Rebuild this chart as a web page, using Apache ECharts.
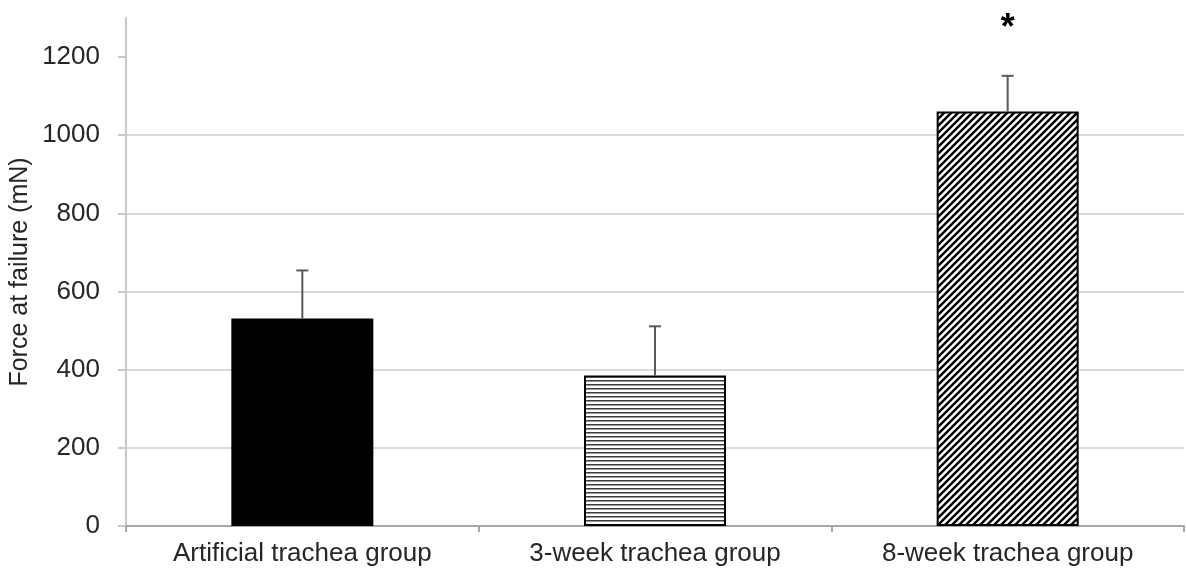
<!DOCTYPE html>
<html>
<head>
<meta charset="utf-8">
<script src="https://cdn.jsdelivr.net/npm/echarts@6/dist/echarts.min.js"></script>
<style>
  html, body { margin: 0; padding: 0; background: #fff; }
  #chart { width: 1186px; height: 577px; }
</style>
</head>
<body>
<div id="chart"></div>
<script>
// data
var groups = ["Artificial trachea group", "3-week trachea group", "8-week trachea group"];
var meanForce = [531, 385, 1061];
var sdForce = [123, 126, 91];
var sigMarks = ["", "", "*"];
var yTicks = [0, 200, 400, 600, 800, 1000, 1200];
var yMax = 1300;

var FONT = "Liberation Sans, Arial, sans-serif";

function hatchHorizontal() {
  var c = document.createElement("canvas");
  c.width = 8;
  c.height = 4;
  var ctx = c.getContext("2d");
  ctx.fillStyle = "#fff";
  ctx.fillRect(0, 0, 8, 4);
  ctx.fillStyle = "#3a3a3a";
  ctx.fillRect(0, 0, 8, 1.5);
  return c;
}

function hatchDiagonal() {
  var s = 7;
  var c = document.createElement("canvas");
  c.width = s;
  c.height = s;
  var ctx = c.getContext("2d");
  ctx.fillStyle = "#fff";
  ctx.fillRect(0, 0, s, s);
  ctx.strokeStyle = "#000";
  ctx.lineWidth = 2.4;
  ctx.beginPath();
  ctx.moveTo(-1, s + 1);
  ctx.lineTo(s + 1, -1);
  ctx.moveTo(-1, 1);
  ctx.lineTo(1, -1);
  ctx.moveTo(s - 1, s + 1);
  ctx.lineTo(s + 1, s - 1);
  ctx.stroke();
  return c;
}

var fills = [
  "#000",
  { image: hatchHorizontal(), repeat: "repeat" },
  { image: hatchDiagonal(), repeat: "repeat" }
];

var barData = meanForce.map(function(v, i) {
  return {
    value: v,
    itemStyle: { color: fills[i], borderColor: "#000", borderWidth: i == 0 ? 0 : 2 }
  };
});

var errData = meanForce.map(function(v, i) {
  return [i, v, v + sdForce[i]];
});

var myChart = echarts.init(document.getElementById("chart"));

var option = {
  animation: false,
  grid: { left: 126, right: 2, top: 18, bottom: 51, containLabel: false, outerBoundsMode: "none" },
  xAxis: {
    type: "category",
    data: groups,
    axisLine: { lineStyle: { color: "#a6a6a6", width: 2 } },
    axisTick: { show: true, length: 6, lineStyle: { color: "#a6a6a6", width: 2 } },
    axisLabel: { color: "#262626", fontSize: 26, fontFamily: FONT, margin: 15, interval: 0 }
  },
  yAxis: {
    type: "value",
    min: 0,
    max: yMax,
    interval: 200,
    name: "Force at failure (mN)",
    nameLocation: "middle",
    nameGap: 93,
    nameMoveOverlap: false,
    nameTextStyle: { color: "#262626", fontSize: 25, fontFamily: FONT },
    axisLine: { show: true, lineStyle: { color: "#c8c8c8", width: 2 } },
    axisTick: { show: true, length: 8, customValues: yTicks, lineStyle: { color: "#c8c8c8", width: 2 } },
    axisLabel: {
      color: "#262626",
      fontSize: 26,
      fontFamily: FONT,
      margin: 26,
      customValues: yTicks,
      formatter: function(v) { return String(v); }
    },
    splitLine: { show: true, showMaxLine: false, lineStyle: { color: "#d9d9d9", width: 2 } }
  },
  series: [
    {
      type: "bar",
      data: barData,
      barWidth: 142,
      z: 2
    },
    {
      type: "custom",
      data: errData,
      z: 3,
      renderItem: function(params, api) {
        var i = api.value(0);
        var lo = api.coord([i, api.value(1)]);
        var hi = api.coord([i, api.value(2)]);
        var style = { stroke: "#595959", lineWidth: 2 };
        var kids = [
          { type: "line", shape: { x1: lo[0], y1: lo[1], x2: hi[0], y2: hi[1] }, style: style },
          { type: "line", shape: { x1: hi[0] - 6, y1: hi[1], x2: hi[0] + 6, y2: hi[1] }, style: style }
        ];
        if (sigMarks[i]) {
          var top = api.coord([i, yMax]);
          kids.push({
            type: "text",
            style: {
              text: sigMarks[i],
              x: top[0],
              y: top[1] - 7,
              align: "center",
              verticalAlign: "top",
              fill: "#000",
              font: "bold 36px " + FONT
            }
          });
        }
        return { type: "group", children: kids };
      }
    }
  ]
};

myChart.setOption(option);
</script>
</body>
</html>
